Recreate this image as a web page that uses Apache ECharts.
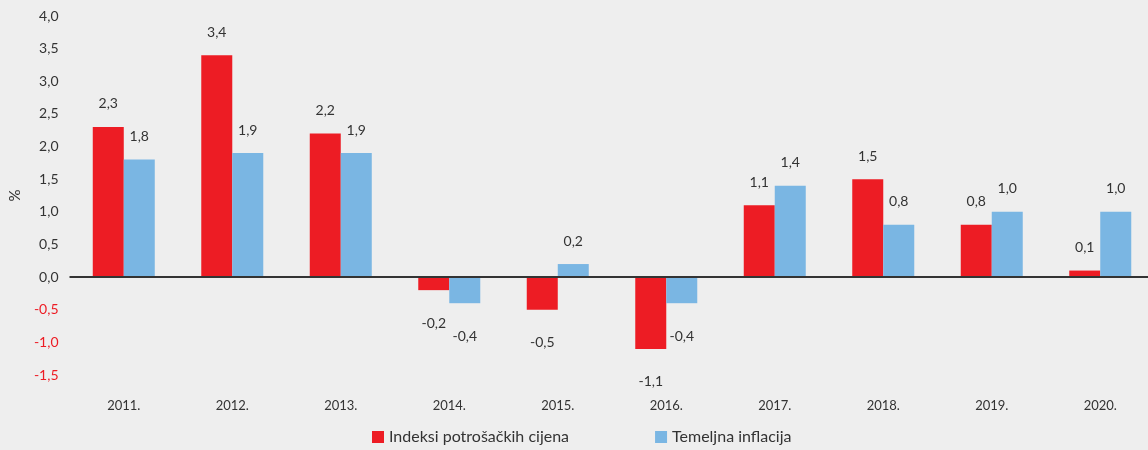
<!DOCTYPE html>
<html lang="hr">
<head>
    <meta charset="UTF-8">
    <title>Inflacija</title>
    <script src="https://cdn.jsdelivr.net/npm/echarts@6/dist/echarts.min.js"></script>
    <style>
        html, body { margin: 0; padding: 0; background: #eeeeee; overflow: hidden; }
    </style>
</head>
<body>
    <!-- a bit wider than the window: the last bars reach past the right edge -->
    <div id="main" style="width: 1156px;height: 450px;"></div>
    <script>
        var years = ['2011.', '2012.', '2013.', '2014.', '2015.', '2016.', '2017.', '2018.', '2019.', '2020.'];
        var cpi = [2.3, 3.4, 2.2, -0.2, -0.5, -1.1, 1.1, 1.5, 0.8, 0.1];
        var core = [1.8, 1.9, 1.9, -0.4, 0.2, -0.4, 1.4, 0.8, 1.0, 1.0];

        var fontName = 'Lato';
        var textColor = '#333333';
        var red = '#ed1c24';
        var blue = '#7ab6e3';

        function fmt(v) {
            return v.toFixed(1).replace('.', ',');
        }

        // positive values above the bar, negative ones below
        function withLabels(values) {
            return values.map(function (v) {
                return {
                    value: v,
                    label: v >= 0
                        ? { position: 'top', distance: 16 }
                        : { position: 'bottom', distance: 26 }
                };
            });
        }

        var myChart = echarts.init(document.getElementById('main'));

        var option = {
            backgroundColor: '#eeeeee',
            animation: false,
            textStyle: { fontFamily: fontName },
            grid: { left: 66.5, right: 1.5, top: 16, bottom: 75 },
            legend: {
                bottom: 0,
                left: 367,
                itemGap: 86,
                itemWidth: 12,
                itemHeight: 12,
                icon: 'rect',
                textStyle: { fontSize: 16, color: textColor, fontFamily: fontName },
                data: ['Indeksi potrošačkih cijena', 'Temeljna inflacija']
            },
            xAxis: {
                type: 'category',
                data: years,
                axisLine: { show: false, onZero: false },
                axisTick: { show: false },
                axisLabel: { margin: 24, fontSize: 13, color: textColor }
            },
            yAxis: {
                type: 'value',
                min: -1.5,
                max: 4,
                interval: 0.5,
                name: '%',
                nameLocation: 'middle',
                nameRotate: 90,
                nameGap: 46,
                nameTextStyle: { fontSize: 15, color: textColor },
                splitLine: { show: false },
                axisLine: { show: false },
                axisTick: { show: false },
                axisLabel: {
                    margin: 11,
                    fontSize: 14,
                    color: function (v) { return v < 0 ? red : textColor; },
                    formatter: function (v) { return fmt(v); }
                }
            },
            series: [{
                name: 'Indeksi potrošačkih cijena',
                type: 'bar',
                barWidth: 31,
                barGap: '0%',
                itemStyle: { color: red },
                label: {
                    show: true,
                    fontSize: 14,
                    color: textColor,
                    formatter: function (p) { return fmt(p.value); }
                },
                data: withLabels(cpi),
                markLine: {
                    silent: true,
                    symbol: 'none',
                    label: { show: false },
                    lineStyle: { color: '#333333', width: 2, type: 'solid' },
                    data: [{ yAxis: 0 }]
                }
            }, {
                name: 'Temeljna inflacija',
                type: 'bar',
                barWidth: 31,
                itemStyle: { color: blue },
                label: {
                    show: true,
                    fontSize: 14,
                    color: textColor,
                    formatter: function (p) { return fmt(p.value); }
                },
                data: withLabels(core)
            }]
        };

        myChart.setOption(option);
    </script>
</body>
</html>
